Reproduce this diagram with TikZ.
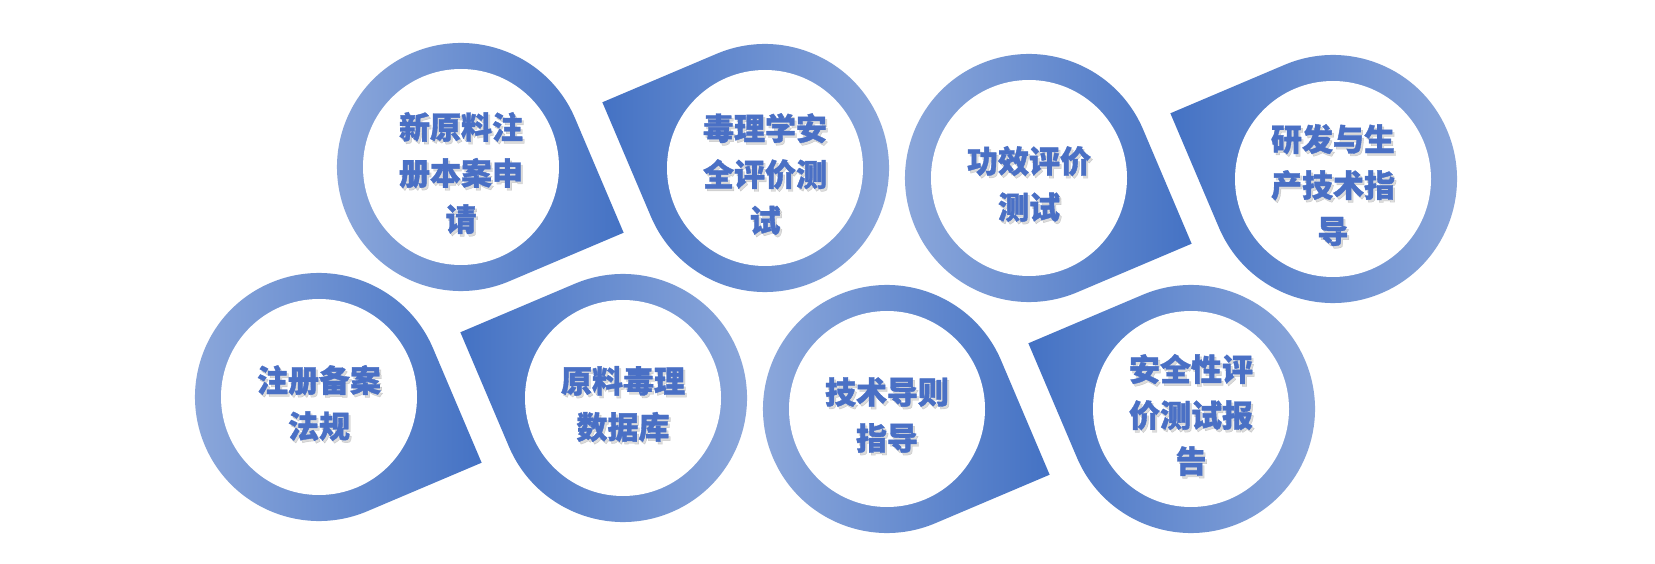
\documentclass[tikz,border=0pt]{standalone}
\usepackage{fontspec}
\newfontfamily\cjk{Noto Sans CJK SC}[BoldFeatures={FakeBold=1.2}]
\usetikzlibrary{calc}
\definecolor{dkblue}{HTML}{4472C4}
\definecolor{ltblue}{HTML}{8FAADC}
\definecolor{txtblue}{HTML}{4A70C5}
\tikzset{
  lbl/.style={align=center, text=txtblue, inner sep=0pt,
    font=\cjk\bfseries\fontsize{31}{46}\selectfont},
  lblshadow/.style={lbl, text=black!70, opacity=0.2},
}
% name, x, y, tip angle, left colour, right colour
\newcommand\tdrop[6]{%
  \coordinate (#1) at (#2,#3);
  \shade[left color=#5, right color=#6]
    ($(#1)+(#4+45:124)$) arc[start angle=#4+45, end angle=#4+315, radius=124]
    -- ($(#1)+(#4:175.4)$) -- cycle;
  \fill[white] (#1) circle[radius=98];
}
% name, centre, text
\newcommand\tlabel[3]{%
  \node[lblshadow] at ($(#2)+(2,-8.5)$) {#3};
  \node[lbl] (#1) at ($(#2)+(0,-6)$) {#3};
}
\begin{document}
\begin{tikzpicture}[x=1pt,y=1pt]
\useasboundingbox (0,0) rectangle (1655,563);
\fill[white] (0,0) rectangle (1655,563);
\tdrop{c1}{461}{396}{-22}{ltblue}{dkblue}
\tdrop{c2}{765}{395}{158}{dkblue}{ltblue}
\tdrop{c3}{1029}{385}{-22}{ltblue}{dkblue}
\tdrop{c4}{1333}{384}{158}{dkblue}{ltblue}
\tdrop{c5}{319}{166}{-22}{ltblue}{dkblue}
\tdrop{c6}{623}{165}{158}{dkblue}{ltblue}
\tdrop{c7}{887}{154}{-22}{ltblue}{dkblue}
\tdrop{c8}{1191}{154}{158}{dkblue}{ltblue}
\tlabel{t1}{c1}{新原料注\\册本案申\\请}
\tlabel{t2}{c2}{毒理学安\\全评价测\\试}
\tlabel{t3}{c3}{功效评价\\测试}
\tlabel{t4}{c4}{研发与生\\产技术指\\导}
\tlabel{t5}{c5}{注册备案\\法规}
\tlabel{t6}{c6}{原料毒理\\数据库}
\tlabel{t7}{c7}{技术导则\\指导}
\tlabel{t8}{c8}{安全性评\\价测试报\\告}
\end{tikzpicture}
\end{document}
